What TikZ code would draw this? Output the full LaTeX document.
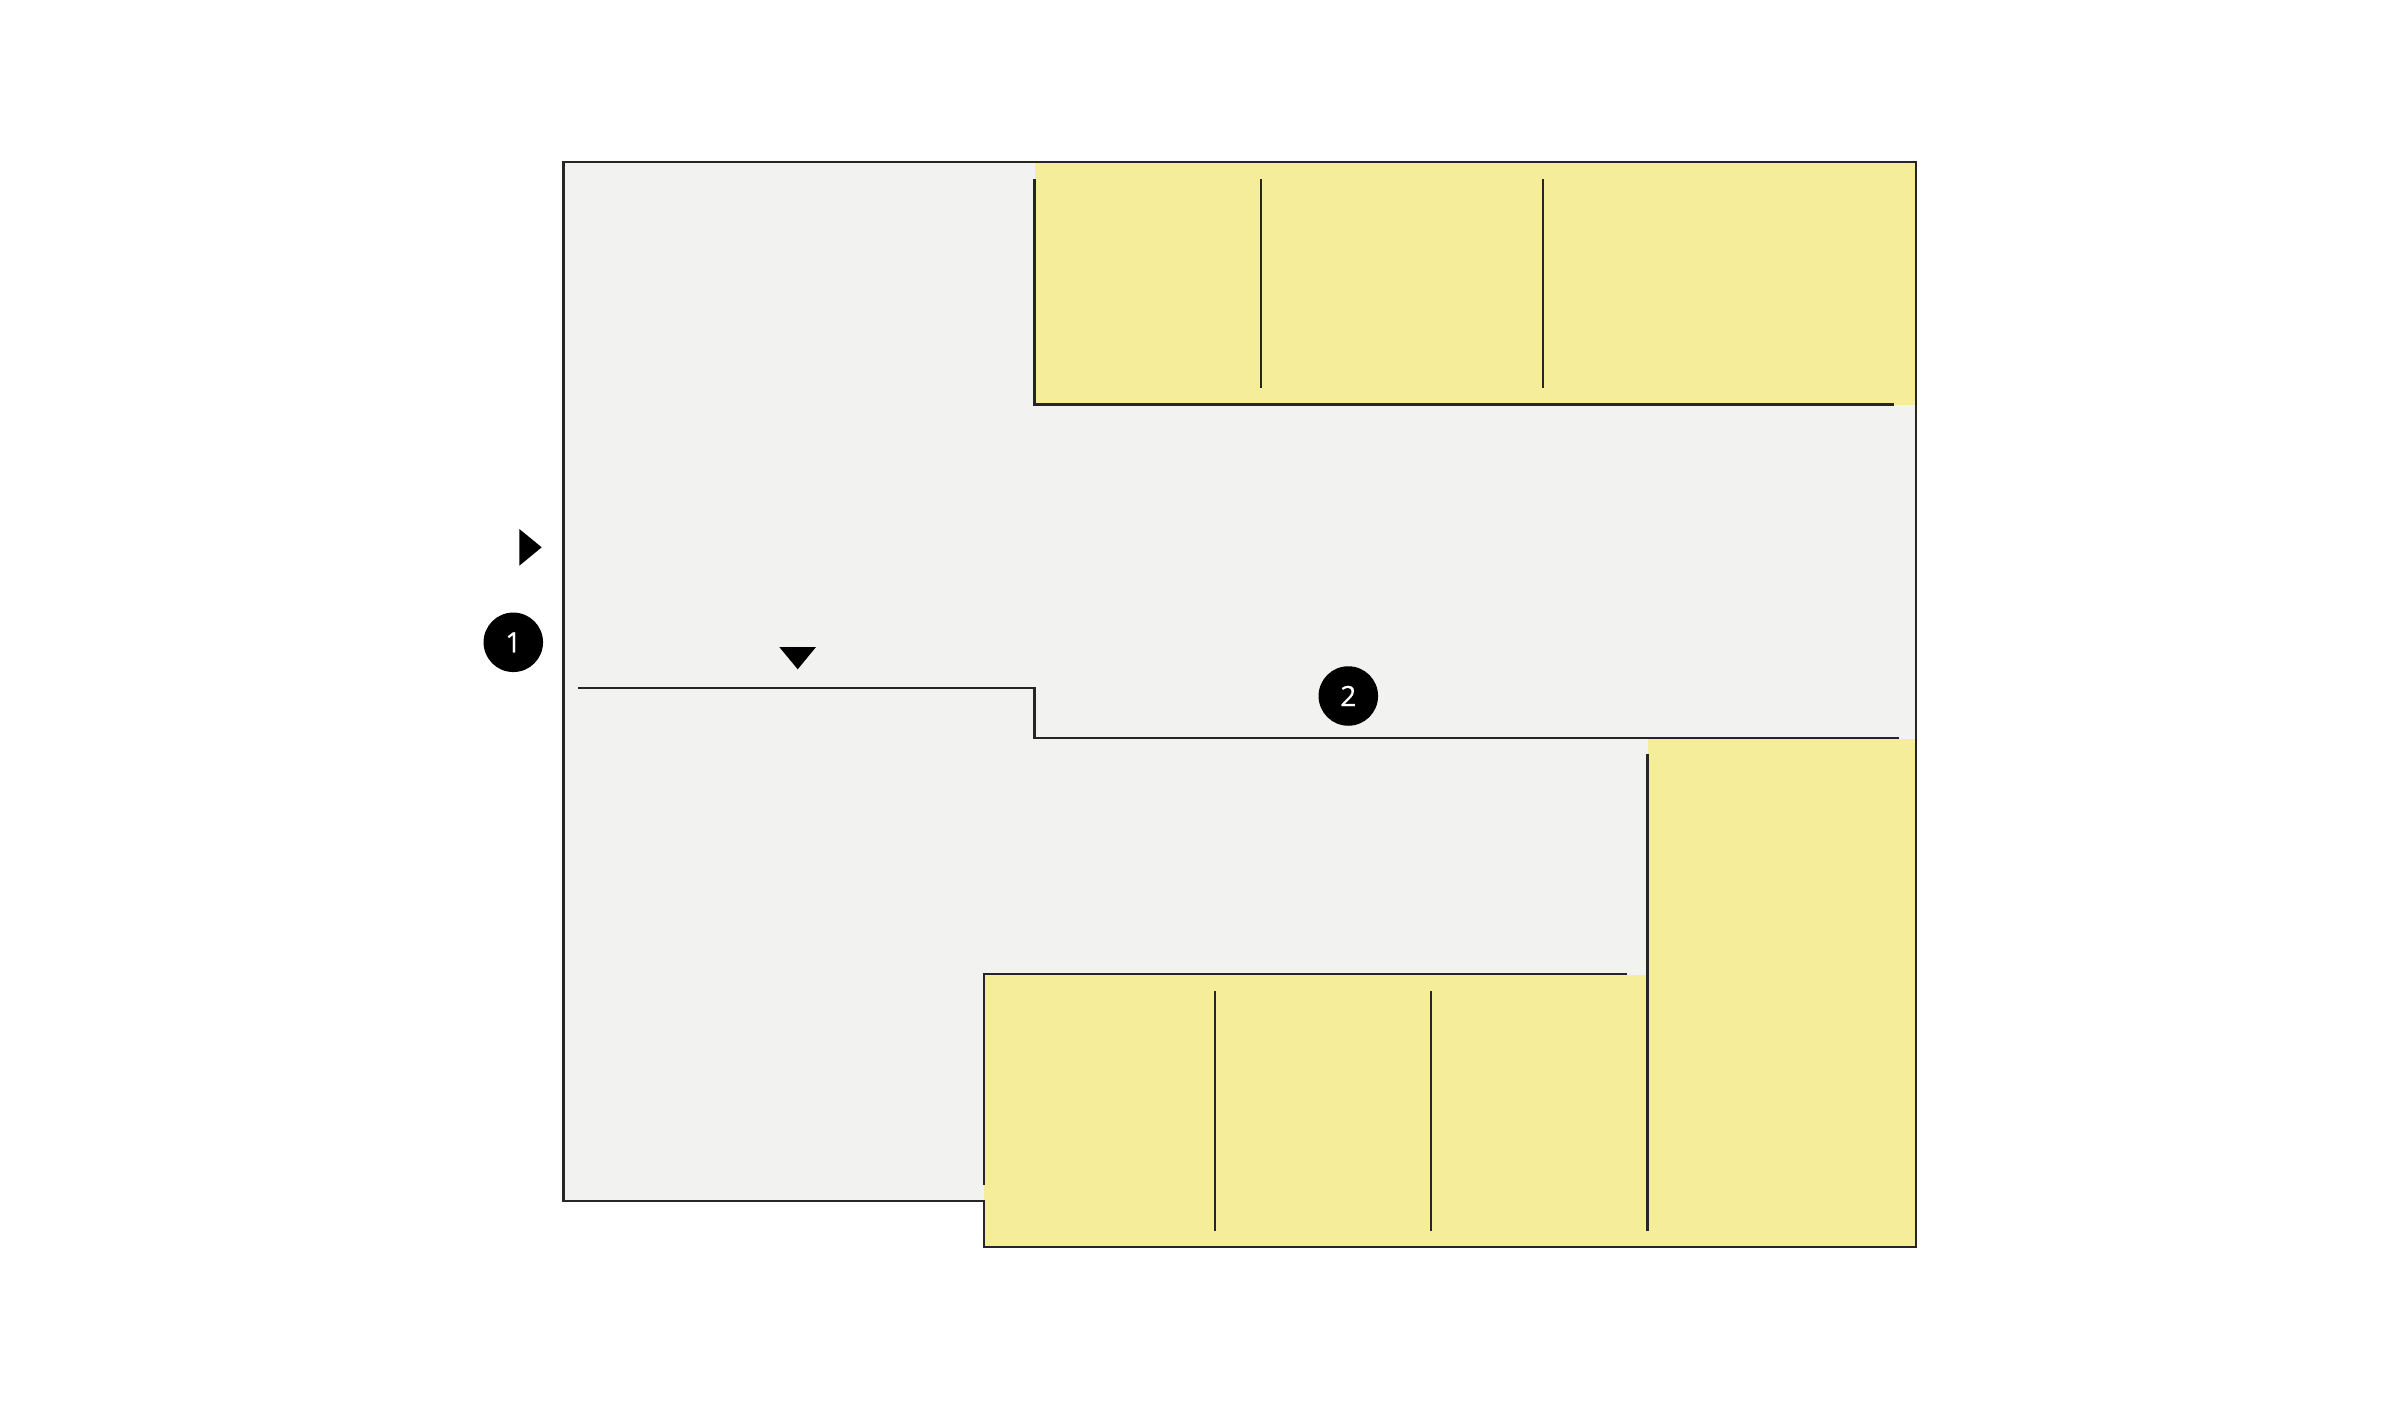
\documentclass[tikz,border=0pt]{standalone}
\usepackage{fontspec}
\setmainfont{Open Sans}
\newfontfamily\badgefont[FakeBold=0.6]{Open Sans}
\definecolor{floorgray}{HTML}{F2F2F0}
\definecolor{zoneyellow}{HTML}{F5ED9A}
\definecolor{wallink}{HTML}{262624}
\tikzset{
  wall/.style={draw=wallink,line width=2.2pt,line cap=butt,line join=miter},
  marker/.style={fill=black,draw=none},
  badge/.style={circle,fill=black,draw=none,minimum size=59.5pt,inner sep=0pt,text=white,font=\fontsize{28}{28}\selectfont\badgefont}
}
\begin{document}
\begin{tikzpicture}[x=1pt,y=-1pt]
\useasboundingbox[fill=white] (0,0) rectangle (2400,1410);
% floor
\fill[floorgray] (563.5,162) -- (1916,162) -- (1916,1247) -- (984,1247) -- (984,1201) -- (563.5,1201) -- cycle;
% yellow zones
\fill[zoneyellow] (1034.5,162) rectangle (1916,404.5);
\fill[zoneyellow] (1647.5,739) rectangle (1916,1247);
\fill[zoneyellow] (984,975) rectangle (1647.5,1247);
% outer walls
\draw[wall] (563.5,162) -- (1916,162) -- (1916,1247) -- (984,1247) -- (984,1201.3) -- (563.5,1201.3) -- cycle;
% upper zone walls
\draw[wall] (1034.5,179) -- (1034.5,404.5) -- (1894,404.5);
\draw[wall] (1261,179) -- (1261,388);
\draw[wall] (1543.3,179) -- (1543.3,388);
% central partition
\draw[wall] (578,688) -- (1034.5,688) -- (1034.5,738.3) -- (1899,738.3);
% lower zone walls
\draw[wall] (984,1185) -- (984,974) -- (1627,974);
\draw[wall] (1215.3,991) -- (1215.3,1231);
\draw[wall] (1430.7,991) -- (1430.7,1231);
\draw[wall] (1647.5,754) -- (1647.5,1231);
% markers
\fill[marker] (519.3,529) -- (541.7,547.3) -- (519.3,565.7) -- cycle;
\fill[marker] (779.3,647) -- (816,647) -- (797.7,669.3) -- cycle;
\node[badge] (b1) at (513.3,642.3) {1};
\node[badge] (b2) at (1348.3,696) {2};
\end{tikzpicture}
\end{document}
